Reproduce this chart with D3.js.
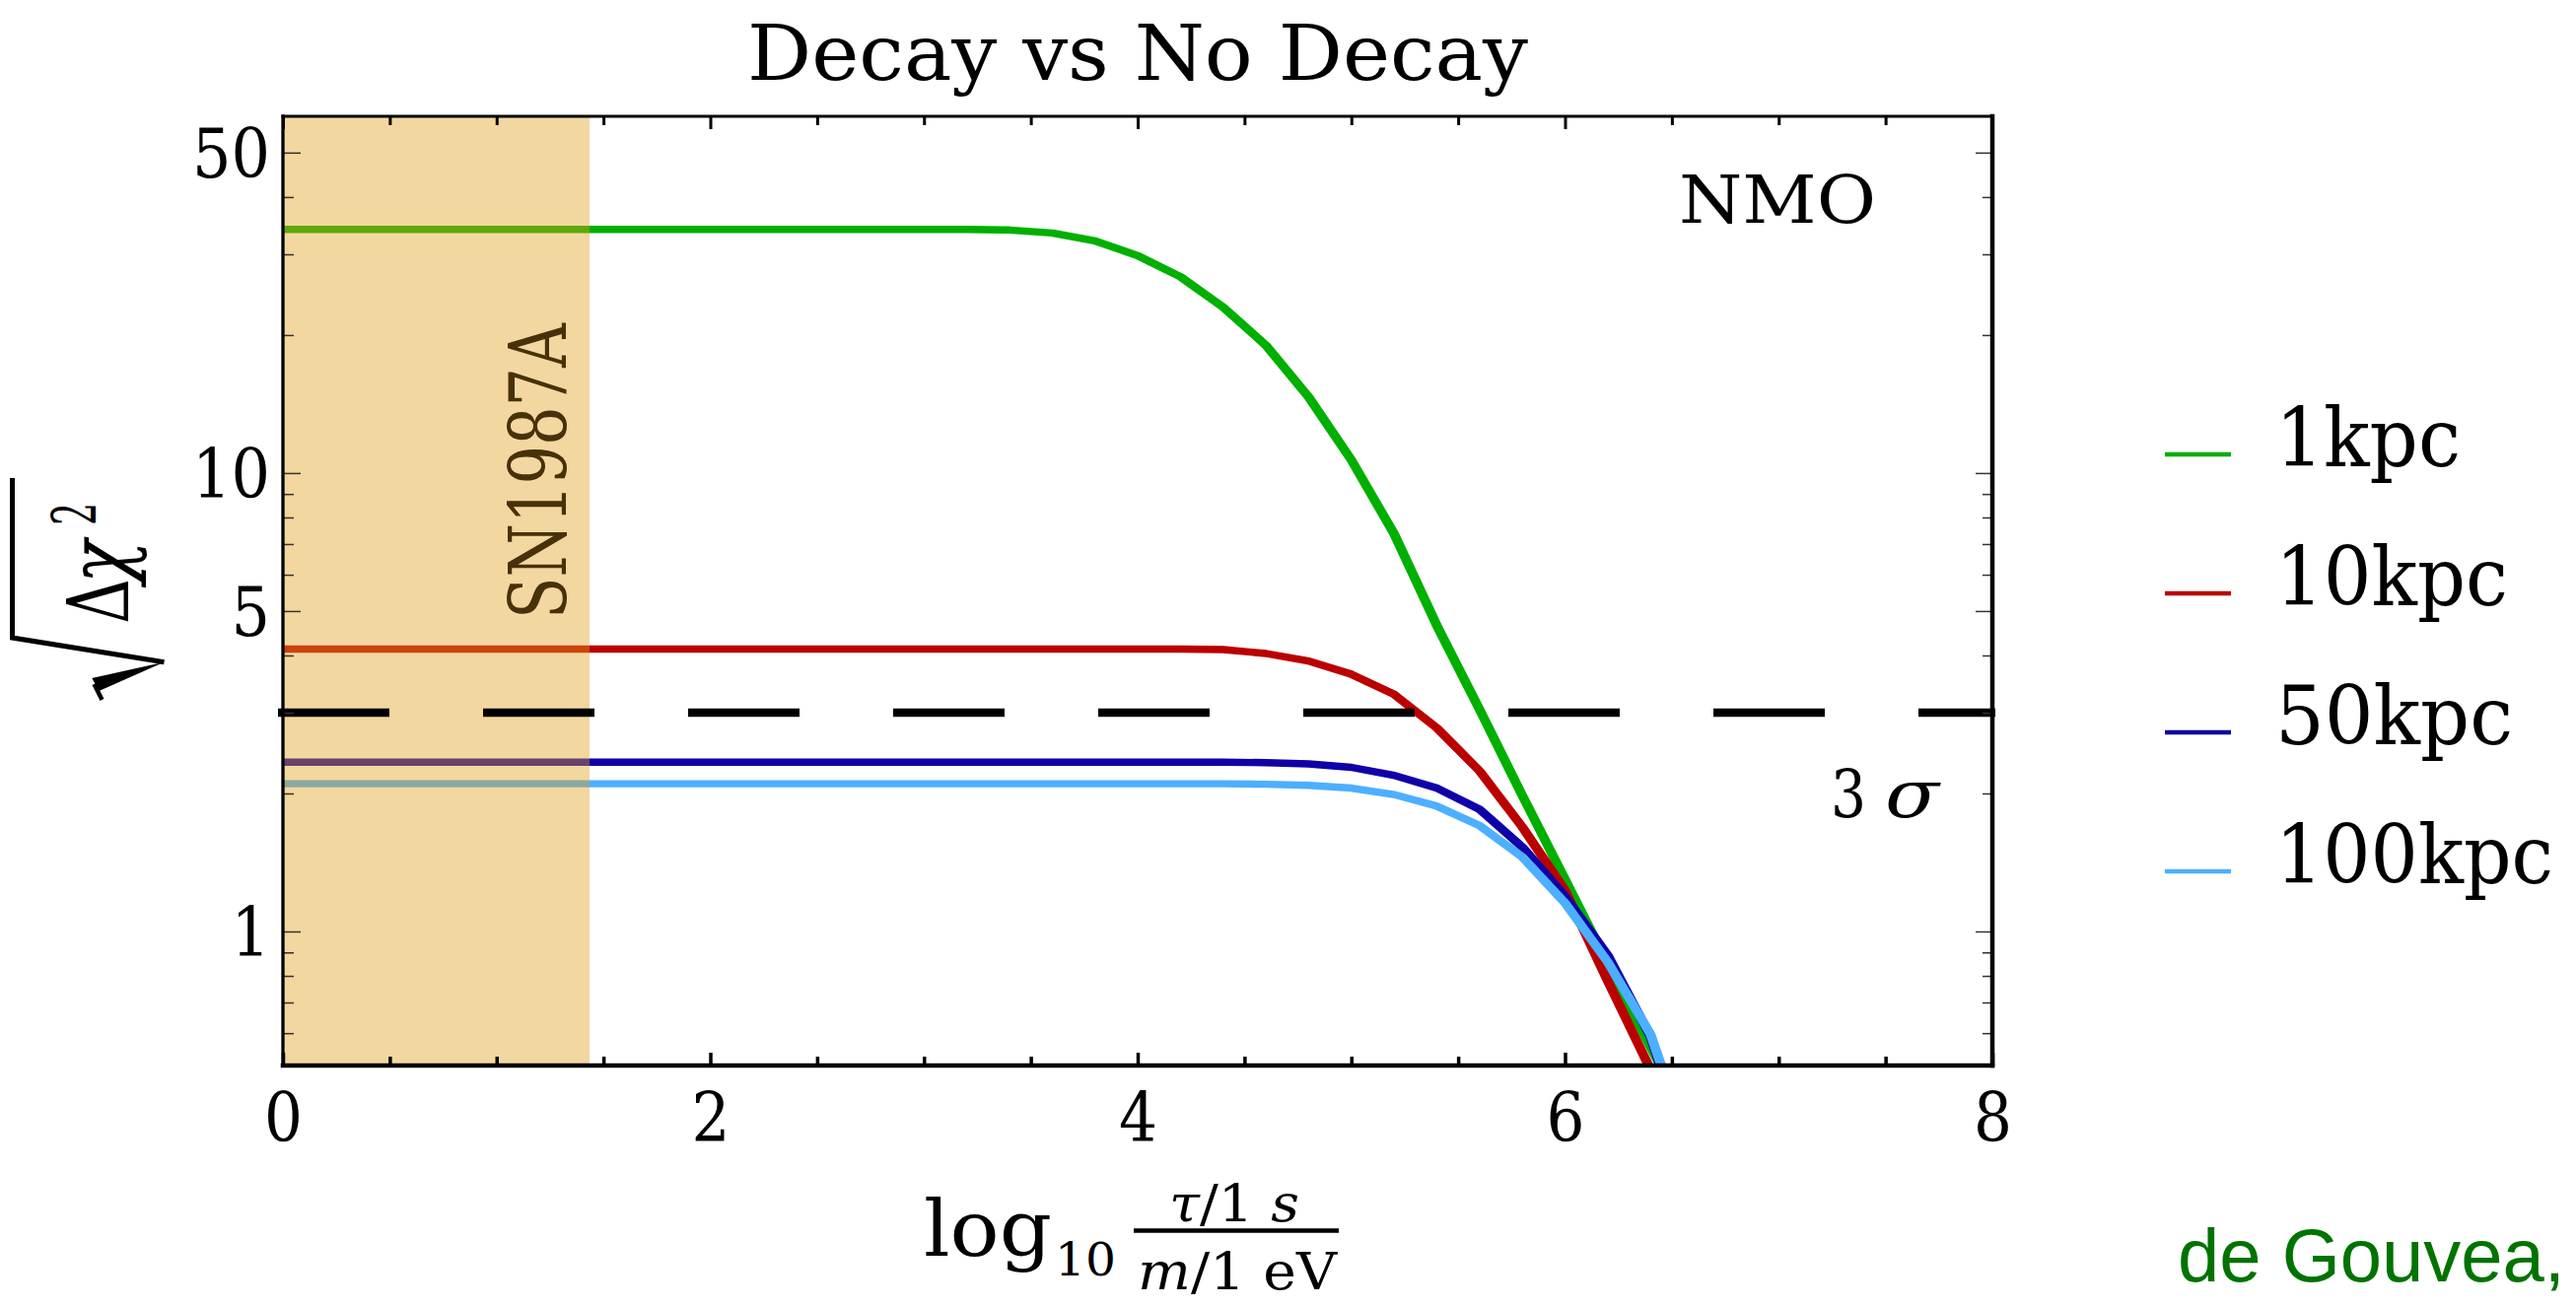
<!DOCTYPE html>
<html>
<head>
<meta charset="utf-8">
<script src="https://cdn.jsdelivr.net/npm/d3@7"></script>
<style>
  html, body { margin: 0; padding: 0; background: #fff; }
  svg { display: block; }
</style>
</head>
<body>
<svg id="chart" width="2613" height="1326"></svg>
<script>
// ---- data -------------------------------------------------------------
// sampled points of log10[(tau/1s)/(m/1eV)]
const xGrid = [0, 1, 2, 3, 3.2, 3.4, 3.6, 3.8, 4.0, 4.2, 4.4, 4.6, 4.8, 5.0, 5.2, 5.4, 5.6, 5.8, 6.0, 6.2, 6.4, 6.6];
// sqrt(delta chi^2) for each supernova distance
const chi1kpc   = [34.0, 34.0, 34.0, 34.0, 34.0, 33.9, 33.4, 32.1, 29.8, 26.8, 23.0, 19.0, 14.65, 10.68, 7.37, 4.65, 3.05, 1.98, 1.30, 0.85, 0.56, 0.37];
const chi10kpc  = [4.13, 4.13, 4.13, 4.13, 4.13, 4.13, 4.13, 4.13, 4.13, 4.13, 4.12, 4.04, 3.89, 3.64, 3.29, 2.78, 2.24, 1.69, 1.23, 0.78, 0.50, 0.33];
const chi50kpc  = [2.34, 2.34, 2.34, 2.34, 2.34, 2.34, 2.34, 2.34, 2.34, 2.34, 2.34, 2.335, 2.32, 2.28, 2.19, 2.055, 1.846, 1.528, 1.193, 0.887, 0.59, 0.31];
const chi100kpc = [2.10, 2.10, 2.10, 2.10, 2.10, 2.10, 2.10, 2.10, 2.10, 2.10, 2.10, 2.095, 2.083, 2.055, 1.989, 1.877, 1.701, 1.454, 1.154, 0.858, 0.597, 0.32];
const seriesNames = ["1kpc", "10kpc", "50kpc", "100kpc"];
const seriesValues = [chi1kpc, chi10kpc, chi50kpc, chi100kpc];
const seriesColors = ["#00b000", "#bb0000", "#1000a8", "#4dafff"];

const xMajorTicks = [0, 2, 4, 6, 8];
const xMinorTicks = [0.5, 1, 1.5, 2.5, 3, 3.5, 4.5, 5, 5.5, 6.5, 7, 7.5];
const yMajorTicks = [1, 5, 10, 50];
const yMinorTicks = [0.6, 0.7, 0.8, 0.9, 2, 3, 4, 6, 7, 8, 9, 20, 30, 40];

const sn1987aBound = 1.435;   // region excluded by SN1987A
const sigmaLevel = 3;         // 3 sigma reference line

// ---- layout -----------------------------------------------------------
const plot = { left: 287, right: 2021, top: 118, bottom: 1081 };
const SERIF = "DejaVu Serif";
const penStretch = 1.35;      // pen is wider than tall, as in the exported figure

const svg = d3.select("#chart");

const x = d3.scaleLinear().domain([0, 8]).range([plot.left, plot.right]);
const y = d3.scaleLog().domain([0.51, 60]).range([plot.bottom, plot.top]);

svg.append("defs").append("clipPath").attr("id", "plotClip")
  .append("rect")
  .attr("x", plot.left - 5).attr("y", plot.top)
  .attr("width", plot.right - plot.left + 5).attr("height", plot.bottom - plot.top);

// ---- curves -----------------------------------------------------------
const line = d3.line()
  .x((d, i) => x(xGrid[i]) / penStretch)
  .y(d => y(d));

const curves = svg.append("g").attr("clip-path", "url(#plotClip)")
  .append("g").attr("transform", `scale(${penStretch},1)`);
seriesValues.forEach((vals, k) => {
  curves.append("path")
    .datum(vals)
    .attr("d", line)
    .attr("fill", "none")
    .attr("stroke", seriesColors[k])
    .attr("stroke-width", 7.4)
    .attr("stroke-linejoin", "round")
    .attr("stroke-linecap", "butt");
});

// ---- SN1987A excluded band (translucent, over the curves) -------------
svg.append("rect")
  .attr("x", x(0)).attr("y", plot.top)
  .attr("width", x(sn1987aBound) - x(0))
  .attr("height", plot.bottom - plot.top)
  .attr("fill", "rgb(226,160,29)")
  .attr("fill-opacity", 0.42);

svg.append("g")
  .attr("transform", `translate(574,628) rotate(-90)`)
  .append("text")
  .attr("x", 0).attr("y", 0)
  .attr("font-family", SERIF).attr("font-size", 80)
  .attr("textLength", 300).attr("lengthAdjust", "spacingAndGlyphs")
  .attr("fill", "#473108")
  .text("SN1987A");

// ---- 3 sigma line -----------------------------------------------------
svg.append("line")
  .attr("x1", plot.left - 5).attr("x2", plot.right + 3)
  .attr("y1", y(sigmaLevel)).attr("y2", y(sigmaLevel))
  .attr("stroke", "#000").attr("stroke-width", 8.5)
  .attr("stroke-dasharray", "113 95");

svg.append("text")
  .attr("x", 1857).attr("y", 829)
  .attr("font-family", SERIF).attr("font-size", 68)
  .attr("textLength", 36).attr("lengthAdjust", "spacingAndGlyphs")
  .text("3");
svg.append("text")
  .attr("x", 1912).attr("y", 829)
  .attr("font-family", SERIF).attr("font-style", "italic").attr("font-size", 68)
  .attr("textLength", 55).attr("lengthAdjust", "spacingAndGlyphs")
  .text("σ");

// ---- NMO tag ----------------------------------------------------------
svg.append("text")
  .attr("x", 1703).attr("y", 226)
  .attr("font-family", SERIF).attr("font-size", 68)
  .attr("textLength", 200).attr("lengthAdjust", "spacingAndGlyphs")
  .text("NMO");

// ---- axes (ticks point inward on all four sides) ----------------------
function styleTicks(g, width, color) {
  g.select(".domain").remove();
  g.selectAll(".tick line").attr("stroke", color).attr("stroke-width", width);
}

svg.append("g").attr("transform", `translate(0,${plot.bottom})`)
  .call(d3.axisBottom(x).tickValues(xMinorTicks).tickSize(-9).tickFormat(() => ""))
  .call(g => styleTicks(g, 3.5, "#000"));
const xAxisG = svg.append("g").attr("transform", `translate(0,${plot.bottom})`)
  .call(d3.axisBottom(x).tickValues(xMajorTicks).tickSize(-13).tickFormat(d3.format("d")))
  .call(g => styleTicks(g, 3.5, "#000"));
xAxisG.selectAll(".tick text")
  .attr("y", 77).attr("dy", null)
  .attr("font-family", SERIF).attr("font-size", 70).attr("fill", "#000")
  .attr("textLength", 39).attr("lengthAdjust", "spacingAndGlyphs");

svg.append("g").attr("transform", `translate(0,${plot.top})`)
  .call(d3.axisTop(x).tickValues(xMinorTicks).tickSize(-9).tickFormat(() => ""))
  .call(g => styleTicks(g, 3, "#000"));
svg.append("g").attr("transform", `translate(0,${plot.top})`)
  .call(d3.axisTop(x).tickValues(xMajorTicks).tickSize(-13).tickFormat(() => ""))
  .call(g => styleTicks(g, 3, "#000"));

svg.append("g").attr("transform", `translate(${plot.left},0)`)
  .call(d3.axisLeft(y).tickValues(yMinorTicks).tickSize(-11).tickFormat(() => ""))
  .call(g => styleTicks(g, 1.5, "#333"));
const yAxisG = svg.append("g").attr("transform", `translate(${plot.left},0)`)
  .call(d3.axisLeft(y).tickValues(yMajorTicks).tickSize(-18).tickFormat(d3.format("d")))
  .call(g => styleTicks(g, 1.5, "#333"));
yAxisG.selectAll(".tick text")
  .attr("x", -13).attr("y", 25).attr("dy", null)
  .attr("font-family", SERIF).attr("font-size", 70).attr("fill", "#000")
  .attr("text-anchor", "end")
  .attr("textLength", d => String(d).length * 39.5).attr("lengthAdjust", "spacingAndGlyphs");

svg.append("g").attr("transform", `translate(${plot.right},0)`)
  .call(d3.axisRight(y).tickValues(yMinorTicks).tickSize(-10).tickFormat(() => ""))
  .call(g => styleTicks(g, 1.5, "#333"));
svg.append("g").attr("transform", `translate(${plot.right},0)`)
  .call(d3.axisRight(y).tickValues(yMajorTicks).tickSize(-17).tickFormat(() => ""))
  .call(g => styleTicks(g, 1.5, "#333"));

// frame
const frame = svg.append("g").attr("stroke", "#000").attr("stroke-linecap", "square");
frame.append("line").attr("x1", plot.left).attr("x2", plot.right).attr("y1", plot.top).attr("y2", plot.top).attr("stroke-width", 3);
frame.append("line").attr("x1", plot.left).attr("x2", plot.right).attr("y1", plot.bottom).attr("y2", plot.bottom).attr("stroke-width", 4.5);
frame.append("line").attr("x1", plot.left).attr("x2", plot.left).attr("y1", plot.top).attr("y2", plot.bottom).attr("stroke-width", 3.3);
frame.append("line").attr("x1", plot.right).attr("x2", plot.right).attr("y1", plot.top).attr("y2", plot.bottom).attr("stroke-width", 4.5);

// ---- title ------------------------------------------------------------
svg.append("text")
  .attr("x", (plot.left + plot.right) / 2).attr("y", 81)
  .attr("text-anchor", "middle")
  .attr("font-family", SERIF).attr("font-size", 78)
  .attr("textLength", 792).attr("lengthAdjust", "spacingAndGlyphs")
  .text("Decay vs No Decay");

// ---- x axis label: log10 (tau/1 s)/(m/1 eV) ---------------------------
svg.append("text")
  .attr("x", 937).attr("y", 1274)
  .attr("font-family", SERIF).attr("font-size", 78)
  .attr("textLength", 130).attr("lengthAdjust", "spacingAndGlyphs")
  .text("log");
svg.append("text")
  .attr("x", 1070).attr("y", 1294)
  .attr("font-family", SERIF).attr("font-size", 47)
  .attr("textLength", 62).attr("lengthAdjust", "spacingAndGlyphs")
  .text("10");
svg.append("line")
  .attr("x1", 1150).attr("x2", 1358).attr("y1", 1248.5).attr("y2", 1248.5)
  .attr("stroke", "#000").attr("stroke-width", 4.5);
const num = svg.append("text")
  .attr("x", 1186).attr("y", 1239)
  .attr("font-family", SERIF).attr("font-size", 52)
  .attr("textLength", 132).attr("lengthAdjust", "spacingAndGlyphs");
num.append("tspan").attr("font-style", "italic").text("τ");
num.append("tspan").text("/1 ");
num.append("tspan").attr("font-style", "italic").text("s");
const den = svg.append("text")
  .attr("x", 1154).attr("y", 1308)
  .attr("font-family", SERIF).attr("font-size", 52)
  .attr("textLength", 202).attr("lengthAdjust", "spacingAndGlyphs");
den.append("tspan").attr("font-style", "italic").text("m");
den.append("tspan").text("/1 eV");

// ---- y axis label: sqrt(delta chi^2), rotated --------------------------
const rad = { x: 12.5, y: 647 };
svg.append("path")
  .attr("d", `M${rad.x},${rad.y - 162} L${rad.x},${rad.y} L${rad.x + 154},${rad.y + 24.7}`)
  .attr("fill", "none").attr("stroke", "#000").attr("stroke-width", 5)
  .attr("stroke-linejoin", "miter");
svg.append("path")
  .attr("d", `M${rad.x + 154},${rad.y + 24.7} L${rad.x + 80.8},${rad.y + 41} L${rad.x + 88},${rad.y + 54} Z`)
  .attr("fill", "#000");
svg.append("path")
  .attr("d", `M${rad.x + 83},${rad.y + 47} L${rad.x + 91},${rad.y + 63}`)
  .attr("stroke", "#000").attr("stroke-width", 4.5);
const ylab = svg.append("g").attr("transform", "translate(130,633) rotate(-90)");
ylab.append("text")
  .attr("x", 0).attr("y", 0)
  .attr("font-family", SERIF).attr("font-size", 86)
  .attr("textLength", 46).attr("lengthAdjust", "spacingAndGlyphs")
  .text("Δ");
ylab.append("text")
  .attr("x", 41).attr("y", 0)
  .attr("font-family", SERIF).attr("font-style", "italic").attr("font-size", 86)
  .attr("textLength", 44).attr("lengthAdjust", "spacingAndGlyphs")
  .text("χ");
ylab.append("text")
  .attr("x", 100).attr("y", -33)
  .attr("font-family", SERIF).attr("font-size", 62)
  .attr("textLength", 23).attr("lengthAdjust", "spacingAndGlyphs")
  .text("2");

// ---- legend -----------------------------------------------------------
const legendTop = 461, legendStep = 141;
const legendTextWidth = [188, 236, 241, 282];
seriesNames.forEach((name, k) => {
  const ly = legendTop + k * legendStep;
  svg.append("line")
    .attr("x1", 2196).attr("x2", 2263).attr("y1", ly).attr("y2", ly)
    .attr("stroke", seriesColors[k]).attr("stroke-width", 4.7);
  svg.append("text")
    .attr("x", 2308).attr("y", ly + 12)
    .attr("font-family", SERIF).attr("font-size", 82)
    .attr("textLength", legendTextWidth[k]).attr("lengthAdjust", "spacingAndGlyphs")
    .text(name);
});

// ---- citation ---------------------------------------------------------
svg.append("text")
  .attr("x", 2209).attr("y", 1300)
  .attr("font-family", "Liberation Sans, Arial, sans-serif").attr("font-size", 76)
  .attr("fill", "#007300")
  .text("de Gouvea,");
</script>
</body>
</html>
